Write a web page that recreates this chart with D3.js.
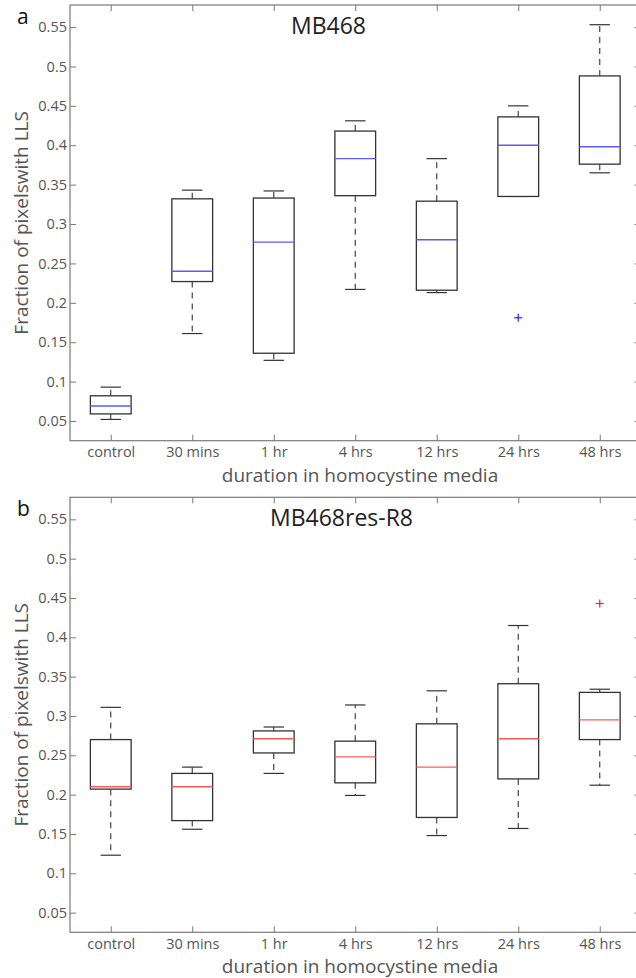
<!DOCTYPE html>
<html>
<head>
<meta charset="utf-8">
<script src="https://cdn.jsdelivr.net/npm/d3@7"></script>
<style>
  html, body { margin: 0; padding: 0; background: #fff; }
  svg { display: block; }
  text { font-family: "Open Sans", "Noto Sans", sans-serif; }
</style>
</head>
<body>
<svg id="chart" width="636" height="978"></svg>
<script>
// Categories (time in homocystine media)
const durations = ["control", "30 mins", "1 hr", "4 hrs", "12 hrs", "24 hrs", "48 hrs"];
const yTicks = [0.05, 0.1, 0.15, 0.2, 0.25, 0.3, 0.35, 0.4, 0.45, 0.5, 0.55];

// MB468 box statistics
const mb468Low    = [0.052, 0.161, 0.127, 0.217, 0.213, 0.335, 0.365];
const mb468Q1     = [0.059, 0.227, 0.136, 0.336, 0.216, 0.335, 0.376];
const mb468Median = [0.069, 0.240, 0.277, 0.383, 0.280, 0.400, 0.398];
const mb468Q3     = [0.082, 0.332, 0.333, 0.418, 0.329, 0.436, 0.488];
const mb468High   = [0.093, 0.343, 0.342, 0.431, 0.383, 0.450, 0.553];
const mb468Outliers = [{ cat: "24 hrs", value: 0.181 }];

// MB468res-R8 box statistics
const r8Low    = [0.123, 0.156, 0.227, 0.199, 0.148, 0.157, 0.212];
const r8Q1     = [0.207, 0.167, 0.253, 0.215, 0.171, 0.220, 0.270];
const r8Median = [0.210, 0.210, 0.271, 0.248, 0.235, 0.271, 0.295];
const r8Q3     = [0.270, 0.227, 0.281, 0.268, 0.290, 0.341, 0.330];
const r8High   = [0.311, 0.235, 0.286, 0.314, 0.332, 0.415, 0.334];
const r8Outliers = [{ cat: "48 hrs", value: 0.443 }];

const svg = d3.select("#chart");

function buildBoxes(low, q1, med, q3, high) {
  return durations.map((c, i) => ({ cat: c, low: low[i], q1: q1[i], med: med[i], q3: q3[i], high: high[i] }));
}

function drawPanel(opt) {
  const left = 70, right = 640.5, top = opt.top, bottom = opt.bottom;
  const x = d3.scalePoint().domain(durations).range([left, right]).padding(0.5);
  const step = x.step();
  const y = d3.scaleLinear().domain([0.025, 0.578]).range([bottom, top]);
  const g = svg.append("g");
  const axisColor = "#7a7a7a";
  const tick = 6;

  // frame
  g.append("rect").attr("x", left).attr("y", top)
    .attr("width", right - left).attr("height", bottom - top)
    .attr("fill", "none").attr("stroke", axisColor).attr("stroke-width", 1.2);

  // left axis with inward ticks
  const ax = g.append("g").attr("transform", `translate(${left},0)`)
    .call(d3.axisLeft(y).tickValues(yTicks).tickSizeInner(-tick).tickSizeOuter(0)
      .tickPadding(3).tickFormat(d => d3.format("")(+d.toFixed(2))));
  ax.select(".domain").remove();
  ax.selectAll("line").attr("stroke", axisColor);
  ax.selectAll("text").attr("fill", "#555").attr("font-size", 14.5);

  // right axis inward ticks
  const ar = g.append("g").attr("transform", `translate(${right},0)`)
    .call(d3.axisRight(y).tickValues(yTicks).tickSizeInner(-tick).tickSizeOuter(0).tickFormat(""));
  ar.select(".domain").remove();
  ar.selectAll("line").attr("stroke", axisColor);

  // bottom axis
  const ab = g.append("g").attr("transform", `translate(0,${bottom})`)
    .call(d3.axisBottom(x).tickSizeInner(-tick).tickSizeOuter(0).tickPadding(6));
  ab.select(".domain").remove();
  ab.selectAll("line").attr("stroke", axisColor);
  ab.selectAll("text").attr("fill", "#555").attr("font-size", 14.5);

  // top axis
  const at = g.append("g").attr("transform", `translate(0,${top})`)
    .call(d3.axisTop(x).tickSizeInner(-tick).tickSizeOuter(0).tickFormat(""));
  at.select(".domain").remove();
  at.selectAll("line").attr("stroke", axisColor);

  // boxes
  const boxes = buildBoxes(opt.low, opt.q1, opt.med, opt.q3, opt.high);
  const bw = step * 0.5, cw = step * 0.25;
  const bg = g.selectAll(".box").data(boxes).join("g").attr("class", "box");
  const dash = "6,5";
  const lineCol = "#333";

  bg.append("line") // upper whisker
    .attr("x1", d => x(d.cat)).attr("x2", d => x(d.cat))
    .attr("y1", d => y(d.q3)).attr("y2", d => y(d.high))
    .attr("stroke", lineCol).attr("stroke-width", 1.1).attr("stroke-dasharray", dash);
  bg.append("line") // lower whisker
    .attr("x1", d => x(d.cat)).attr("x2", d => x(d.cat))
    .attr("y1", d => y(d.q1)).attr("y2", d => y(d.low))
    .attr("stroke", lineCol).attr("stroke-width", 1.1).attr("stroke-dasharray", dash);
  bg.append("line") // upper cap
    .attr("x1", d => x(d.cat) - cw / 2).attr("x2", d => x(d.cat) + cw / 2)
    .attr("y1", d => y(d.high)).attr("y2", d => y(d.high))
    .attr("stroke", lineCol).attr("stroke-width", 1.2);
  bg.append("line") // lower cap
    .attr("x1", d => x(d.cat) - cw / 2).attr("x2", d => x(d.cat) + cw / 2)
    .attr("y1", d => y(d.low)).attr("y2", d => y(d.low))
    .attr("stroke", lineCol).attr("stroke-width", 1.2);
  bg.append("rect")
    .attr("x", d => x(d.cat) - bw / 2).attr("width", bw)
    .attr("y", d => y(d.q3)).attr("height", d => y(d.q1) - y(d.q3))
    .attr("fill", "#fff").attr("stroke", lineCol).attr("stroke-width", 1.3);
  bg.append("line") // median
    .attr("x1", d => x(d.cat) - bw / 2).attr("x2", d => x(d.cat) + bw / 2)
    .attr("y1", d => y(d.med)).attr("y2", d => y(d.med))
    .attr("stroke", opt.medColor).attr("stroke-width", 1.4);

  // outliers
  const s = 4;
  const og = g.selectAll(".outlier").data(opt.outliers).join("g").attr("class", "outlier")
    .attr("transform", d => `translate(${x(d.cat)},${y(d.value)})`);
  og.append("line").attr("x1", -s).attr("x2", s).attr("stroke", opt.outColor).attr("stroke-width", 1.2);
  og.append("line").attr("y1", -s).attr("y2", s).attr("stroke", opt.outColor).attr("stroke-width", 1.2);

  // title
  g.append("text").attr("x", opt.titleX).attr("y", top + 29)
    .attr("font-size", 23).attr("fill", "#222").text(opt.title);

  // panel letter
  g.append("text").attr("x", 17).attr("y", top + 19)
    .attr("font-size", 21).attr("fill", "#111").text(opt.letter);

  // axis labels
  g.append("text").attr("x", 360).attr("y", bottom + 41)
    .attr("text-anchor", "middle").attr("font-size", 19).attr("fill", "#555")
    .text("duration in homocystine media");
  g.append("text")
    .attr("transform", `translate(28,${(top + bottom) / 2}) rotate(-90)`)
    .attr("text-anchor", "middle").attr("font-size", 19).attr("fill", "#555")
    .text("Fraction of pixelswith LLS");
}

drawPanel({
  top: 5, bottom: 440.7, title: "MB468", titleX: 291, letter: "a",
  low: mb468Low, q1: mb468Q1, med: mb468Median, q3: mb468Q3, high: mb468High,
  outliers: mb468Outliers, medColor: "#5a5aff", outColor: "#2020ff"
});
drawPanel({
  top: 497.3, bottom: 932.3, title: "MB468res-R8", titleX: 270, letter: "b",
  low: r8Low, q1: r8Q1, med: r8Median, q3: r8Q3, high: r8High,
  outliers: r8Outliers, medColor: "#ff5a5a", outColor: "#ff2020"
});
</script>
</body>
</html>
